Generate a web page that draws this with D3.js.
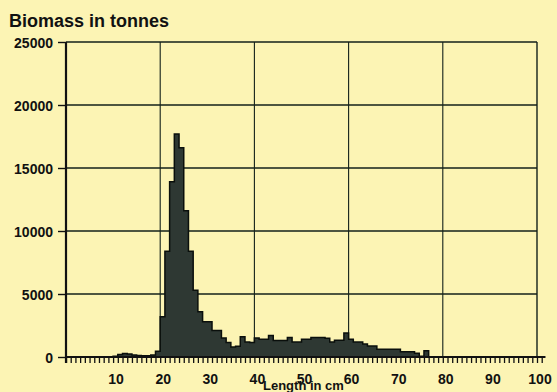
<!DOCTYPE html>
<html>
<head>
<meta charset="utf-8">
<script src="https://cdn.jsdelivr.net/npm/d3@7"></script>
<style>
  html, body { margin: 0; padding: 0; background: #fcf4b4; }
  svg { display: block; }
  text { font-family: "Liberation Sans", Arial, Helvetica, sans-serif; font-weight: bold; fill: #111; }
</style>
</head>
<body>
<svg id="chart" width="557" height="392"></svg>
<script>
// Bin lower edges (cm) and biomass (tonnes)
const lengths = [10,11,12,13,14,15,16,17,18,19,20,21,22,23,24,25,26,27,28,29,30,31,32,33,34,35,36,37,38,39,40,41,42,43,44,45,46,47,48,49,50,51,52,53,54,55,56,57,58,59,60,61,62,63,64,65,66,67,68,69,70,71,72,73,74,75,76,77];
const biomass = [60,200,280,240,150,110,90,90,150,450,3200,8400,13900,17700,16600,11600,8400,5300,3600,2800,2800,2100,2100,1500,1150,800,850,1600,1200,1150,1500,1400,1400,1700,1300,1300,1300,1550,1200,1200,1400,1400,1550,1550,1550,1480,1200,1330,1330,1900,1400,1200,1200,1030,870,870,610,610,610,610,610,420,420,420,290,60,500,0];
const yTicks = [0,5000,10000,15000,20000,25000];
const xLabelTicks = [10,20,30,40,50,60,70,80,90,100];
const xGridTicks = [20,40,60,80,100];
const minorTicks = d3.range(0, 102);
const title = "Biomass in tonnes";
const xTitle = "Length in cm";

const svg = d3.select("#chart");
const x = d3.scaleLinear().domain([0, 100]).range([66, 537]);
const y = d3.scaleLinear().domain([0, 25000]).range([357, 42]);

// horizontal gridlines
svg.append("g").selectAll("line").data(yTicks.filter(d => d > 0)).join("line")
  .attr("x1", x(0)).attr("x2", x(100))
  .attr("y1", d => y(d)).attr("y2", d => y(d))
  .attr("stroke", "#13201a").attr("stroke-width", 1.3);

// vertical gridlines
svg.append("g").selectAll("line").data(xGridTicks).join("line")
  .attr("x1", d => x(d)).attr("x2", d => x(d))
  .attr("y1", y(25000)).attr("y2", y(0))
  .attr("stroke", "#13201a").attr("stroke-width", d => d === 100 ? 1.4 : 1.1);

// histogram
const pts = lengths.map((l, i) => ({ l, v: biomass[i] }));
const area = d3.area()
  .x(d => x(d.l))
  .y0(y(0))
  .y1(d => y(d.v))
  .curve(d3.curveStepAfter);
svg.append("path").datum(pts)
  .attr("d", area)
  .attr("fill", "#2e3833")
  .attr("stroke", "#0a0f0c")
  .attr("stroke-width", 1.5)
  .attr("stroke-linejoin", "miter");

// y axis
const yAxis = d3.axisLeft(y).tickValues(yTicks).tickSize(8).tickPadding(5).tickFormat(d3.format("d"));
const gy = svg.append("g").attr("transform", `translate(${x(0)},0)`).call(yAxis);
gy.select(".domain").remove();
gy.selectAll(".tick line").attr("stroke", "#111").attr("stroke-width", 1.4);
gy.selectAll(".tick text").attr("font-size", 14).attr("font-family", null).attr("dy", "0.36em").attr("fill", "#111");
svg.append("line").attr("x1", x(0)).attr("x2", x(0)).attr("y1", y(25000)).attr("y2", y(0) + 6)
  .attr("stroke", "#111").attr("stroke-width", 2.2);

// x axis: minor ticks every cm
const xAxis = d3.axisBottom(x).tickValues(minorTicks).tickSize(6).tickFormat("");
const gx = svg.append("g").attr("transform", `translate(0,${y(0)})`).call(xAxis);
gx.select(".domain").remove();
gx.selectAll(".tick line").attr("stroke", "#111").attr("stroke-width", 1.3);
svg.append("line").attr("x1", x(0)).attr("x2", x(101.8)).attr("y1", y(0)).attr("y2", y(0))
  .attr("stroke", "#111").attr("stroke-width", 2);

// x labels
svg.append("g").selectAll("text").data(xLabelTicks).join("text")
  .attr("x", d => x(d) + 3).attr("y", 384)
  .attr("text-anchor", "middle").attr("font-size", 14)
  .text(d => d);

// titles
svg.append("text").attr("x", 9).attr("y", 27).attr("font-size", 18).text(title);
svg.append("text").attr("x", 263).attr("y", 390).attr("font-size", 13).text(xTitle);
</script>
</body>
</html>
